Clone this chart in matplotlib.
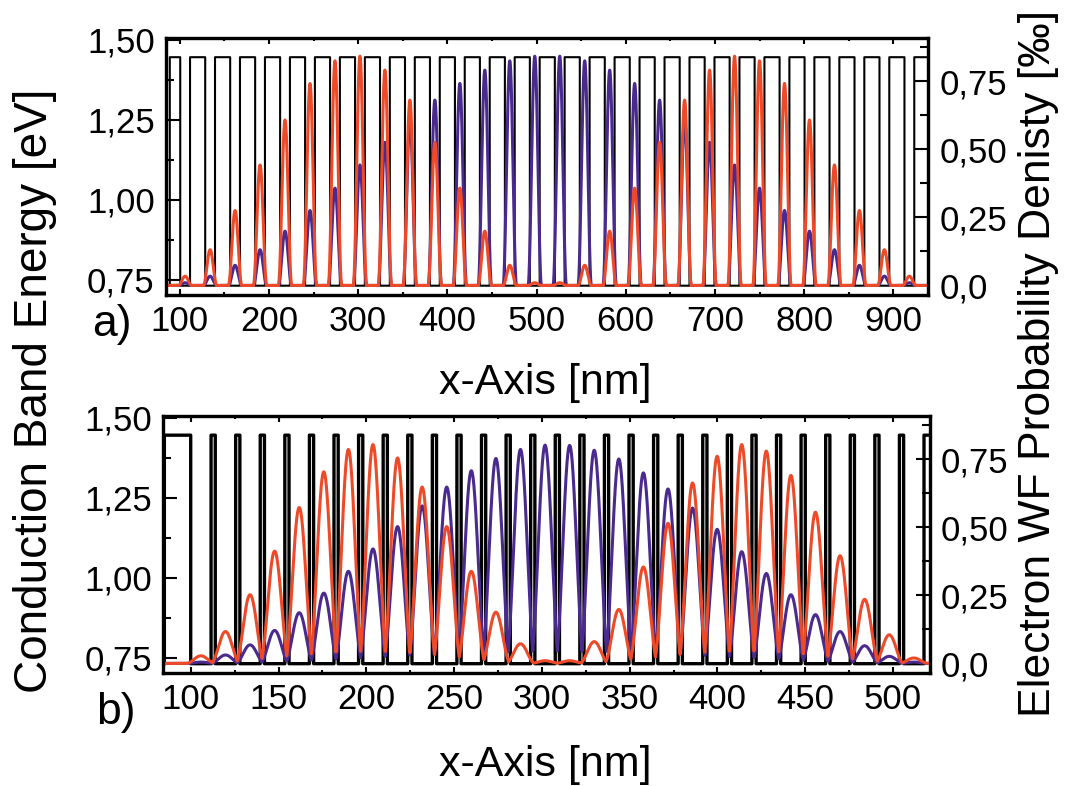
import numpy as np
import matplotlib.pyplot as plt
from matplotlib.ticker import MultipleLocator, FixedLocator

plt.rcParams['font.family'] = ['Liberation Sans', 'DejaVu Sans']

# ---- panel a) : wide barriers, 30 wells ----
wells_a = [100.5, 128.5, 156.5, 184.5, 212.5, 240.5, 268.5, 296.5, 324.5, 352.5,
           380.5, 408.5, 436.5, 464.5, 492.5, 520.5, 548.5, 576.5, 604.5, 632.5,
           660.5, 688.5, 716.5, 744.5, 772.5, 800.5, 828.5, 856.5, 884.5, 912.5]
well_w_a = 11.0
red_a = [0.034, 0.131, 0.275, 0.442, 0.607, 0.741, 0.824, 0.841, 0.790, 0.680,
         0.525, 0.357, 0.199, 0.074, 0.010, 0.010, 0.074, 0.199, 0.357, 0.525,
         0.680, 0.790, 0.841, 0.824, 0.741, 0.607, 0.442, 0.275, 0.131, 0.034]
purple_a = [0.010, 0.034, 0.074, 0.131, 0.199, 0.275, 0.357, 0.442, 0.525, 0.607,
            0.680, 0.741, 0.790, 0.824, 0.841, 0.841, 0.824, 0.790, 0.741, 0.680,
            0.607, 0.525, 0.442, 0.357, 0.275, 0.199, 0.131, 0.074, 0.034, 0.010]

# ---- panel b) : thin barriers, 30 wells ----
wells_b = [100, 114, 128, 142, 156, 170, 184, 198, 212, 226,
           240, 254, 268, 282, 296, 310, 324, 338, 352, 366,
           380, 394, 408, 422, 436, 450, 464, 478, 492, 506]
well_w_b = 11.6
red_b = [0.028, 0.117, 0.252, 0.412, 0.572, 0.703, 0.785, 0.803, 0.754, 0.647,
         0.502, 0.338, 0.188, 0.072, 0.010, 0.010, 0.080, 0.198, 0.354, 0.514,
         0.662, 0.760, 0.803, 0.779, 0.690, 0.555, 0.395, 0.235, 0.105, 0.020]
purple_b = [0.005, 0.031, 0.068, 0.121, 0.186, 0.258, 0.338, 0.420, 0.502, 0.578,
            0.647, 0.707, 0.752, 0.785, 0.801, 0.800, 0.782, 0.750, 0.699, 0.640,
            0.570, 0.492, 0.410, 0.330, 0.252, 0.179, 0.117, 0.065, 0.026, 0.005]

e_top = 1.445
e_bot = 0.732

RED = '#ef4a28'
PURPLE = '#4a2a8e'


def band(x0, starts, w, x1):
    xs = [x0, x0]
    ys = [e_bot, e_top]
    for s in starts:
        xs += [s, s, s + w, s + w]
        ys += [e_top, e_bot, e_bot, e_top]
    xs.append(x1)
    ys.append(e_top)
    return xs, ys


def density(x, starts, w, peaks, span):
    d = np.zeros_like(x)
    for s, p in zip(starts, peaks):
        c = s + w / 2
        u = np.abs(x - c) < span / 2
        d[u] = np.maximum(d[u], p * np.cos(np.pi * (x[u] - c) / span) ** 2)
    return d


fig = plt.figure(figsize=(10.73, 7.86), dpi=100)
axa = fig.add_axes([0.1545, 0.6247, 0.7107, 0.327])
axb = fig.add_axes([0.1522, 0.1438, 0.7145, 0.327])

panels = [
    (axa, wells_a, well_w_a, red_a, purple_a, (84.3, 939.3), 100, 50, 15.0, 88.8, 1.5),
    (axb, wells_b, well_w_b, red_b, purple_b, (84.4, 521.0), 50, 25, 16.5, 85.0, 2.4),
]

for ax, wells, ww, red, pur, xlim, xmaj, xmin_, span, x0, blw in panels:
    bx, by = band(x0, wells, ww, xlim[1] + 5)
    ax.plot(bx, by, color='black', lw=blw, snap=False)
    ax.set_xlim(*xlim)
    ax.set_ylim(0.703, 1.505)
    ax.yaxis.set_major_locator(FixedLocator([0.75, 1.00, 1.25, 1.50]))
    ax.set_yticklabels(['0,75', '1,00', '1,25', '1,50'])
    ax.yaxis.set_minor_locator(MultipleLocator(0.125))
    ax.xaxis.set_major_locator(MultipleLocator(xmaj))
    ax.xaxis.set_minor_locator(MultipleLocator(xmin_))
    ax.tick_params(axis='both', which='both', direction='in', labelsize=25,
                   top=True, right=False, width=1.5)
    ax.tick_params(axis='y', which='major', length=10, pad=8)
    ax.tick_params(axis='y', which='minor', length=5.5)
    ax.tick_params(axis='x', which='major', length=4, pad=7)
    ax.tick_params(axis='x', which='minor', length=2.5)
    for sp in ax.spines.values():
        sp.set_linewidth(2.3)

    tw = ax.twinx()
    x = np.linspace(xlim[0], xlim[1], 8000)
    tw.plot(x, density(x, wells, ww, pur, span), color=PURPLE, lw=2.2)
    tw.plot(x, density(x, wells, ww, red, span), color=RED, lw=2.2)
    tw.set_xlim(*xlim)
    tw.set_ylim(-0.035, 0.908)
    tw.yaxis.set_major_locator(FixedLocator([0.0, 0.25, 0.5, 0.75]))
    tw.set_yticklabels(['0,0', '0,25', '0,50', '0,75'])
    tw.yaxis.set_minor_locator(MultipleLocator(0.125))
    tw.tick_params(axis='y', which='both', direction='in', labelsize=25, width=1.5)
    tw.tick_params(axis='y', which='major', length=10, pad=8)
    tw.tick_params(axis='y', which='minor', length=5.5)
    for sp in tw.spines.values():
        sp.set_linewidth(2.3)

fig.text(0.508, 0.513, 'x-Axis [nm]', fontsize=31, ha='center', va='center')
fig.text(0.508, 0.027, 'x-Axis [nm]', fontsize=31, ha='center', va='center')
fig.text(0.086, 0.587, 'a)', fontsize=32, ha='left', va='center')
fig.text(0.090, 0.094, 'b)', fontsize=32, ha='left', va='center')
fig.text(0.033, 0.503, 'Conduction Band Energy [eV]', fontsize=33,
         rotation=90, ha='center', va='center')
fig.text(0.968, 0.537, 'Electron WF Probability Denisty [\u2030]', fontsize=32,
         rotation=90, ha='center', va='center')

fig.savefig('out.png', dpi=100)
